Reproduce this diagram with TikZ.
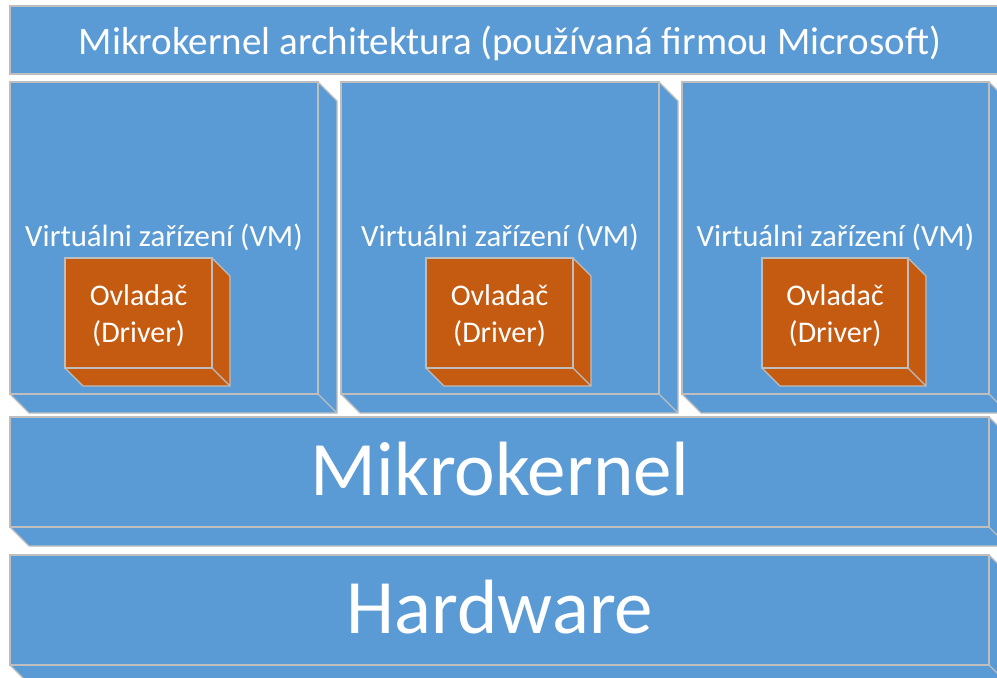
\documentclass[tikz,border=0pt]{standalone}
\usepackage{fontspec}
\setmainfont{Carlito}
\usetikzlibrary{calc}
\definecolor{layerblue}{HTML}{5B9BD5}
\definecolor{driverorange}{HTML}{C55A11}
\definecolor{edgegrey}{HTML}{BEBEBE}
\tikzset{
  face/.style={draw=edgegrey, line width=1.1pt, inner sep=0pt, outer sep=0pt, anchor=north west},
  layer/.style={face, fill=layerblue},
  drv/.style={face, fill=driverorange},
  edge/.style={draw=edgegrey, line width=1.1pt, line join=round},
  label/.style={text=white, inner sep=0pt, anchor=base},
}
% side and bottom faces of a box whose front face is node #1, depth #2
\newcommand{\extrude}[3]{%
  \fill[#3] (#1.north east) -- ++(#2,#2) -- ($(#1.south east)+(#2,#2)$)
     -- ($(#1.south west)+(#2,#2)$) -- (#1.south west) -- (#1.south east) -- cycle;
  \draw[edge] (#1.north east) -- ++(#2,#2) -- ($(#1.south east)+(#2,#2)$)
     -- ($(#1.south west)+(#2,#2)$) -- (#1.south west);
  \draw[edge] (#1.south east) -- ++(#2,#2);
  \draw[edge] (#1.north west) rectangle (#1.south east);
}
\begin{document}
\begin{tikzpicture}[x=1pt,y=-1pt]
\useasboundingbox (0,0) rectangle (997,678);
\clip (0,0) rectangle (997,678);
\fill[white] (0,0) rectangle (997,678);

% title bar
\node[layer, minimum width=1010pt, minimum height=68pt] (title) at (10,6) {};
\node[label, font=\fontsize{39}{45}\selectfont] (titletext) at (510,54)
  {Mikrokernel architektura (používaná firmou Microsoft)};

% virtual machines
\node[layer, minimum width=308pt, minimum height=312pt] (vm1) at (10,82) {};
\node[layer, minimum width=318pt, minimum height=312pt] (vm2) at (341,82) {};
\node[layer, minimum width=307pt, minimum height=312pt] (vm3) at (682,82) {};
\extrude{vm1}{19}{layerblue}
\extrude{vm2}{19}{layerblue}
\extrude{vm3}{19}{layerblue}
\node[label, font=\fontsize{30.8}{36}\selectfont] (vm1text) at (164,246) {Virtuálni zařízení (VM)};
\node[label, font=\fontsize{30.8}{36}\selectfont] (vm2text) at (500,246) {Virtuálni zařízení (VM)};
\node[label, font=\fontsize{30.8}{36}\selectfont] (vm3text) at (835.5,246) {Virtuálni zařízení (VM)};

% drivers
\node[drv, minimum width=147pt, minimum height=110pt] (drv1) at (65,258) {};
\node[drv, minimum width=147pt, minimum height=110pt] (drv2) at (426,258) {};
\node[drv, minimum width=146pt, minimum height=110pt] (drv3) at (762,258) {};
\extrude{drv1}{18}{driverorange}
\extrude{drv2}{18}{driverorange}
\extrude{drv3}{18}{driverorange}
\foreach \d in {drv1,drv2,drv3}{
  \node[label, font=\fontsize{30}{37}\selectfont, align=center, anchor=base]
    (\d text) at ($(\d.north)+(0,84)$) {Ovladač\\(Driver)};
}

% kernel and hardware layers
\node[layer, minimum width=979pt, minimum height=110pt] (kernel) at (10,417) {};
\extrude{kernel}{19}{layerblue}
\node[label, font=\fontsize{77}{90}\selectfont] (kerneltext) at (500,495) {Mikrokernel};

\node[layer, minimum width=979pt, minimum height=110pt] (hw) at (10,555) {};
\extrude{hw}{19}{layerblue}
\node[label, font=\fontsize{77}{90}\selectfont] (hwtext) at (500,633) {Hardware};
\end{tikzpicture}
\end{document}
